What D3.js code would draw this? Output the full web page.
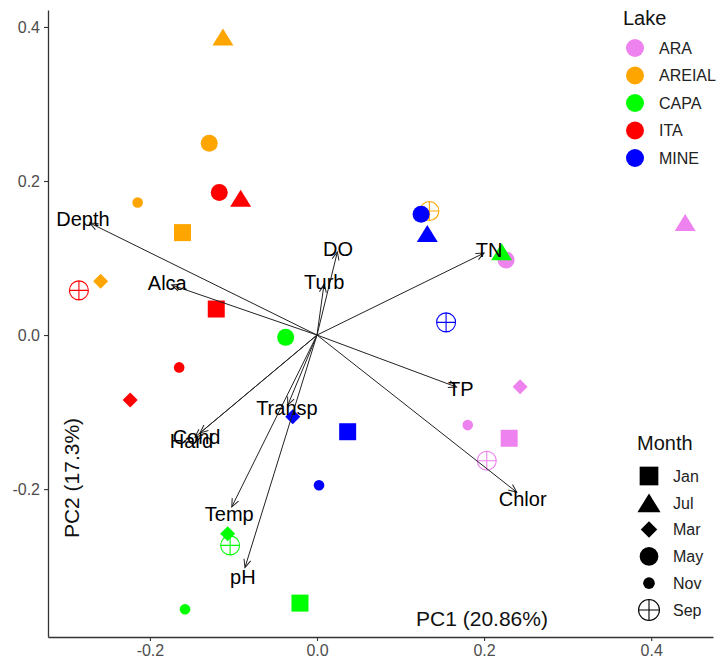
<!DOCTYPE html>
<html>
<head>
<meta charset="utf-8">
<title>PCA biplot</title>
<script src="https://cdn.jsdelivr.net/npm/d3@7"></script>
<style>
  body { margin: 0; background: #fff; }
  text { font-family: "Liberation Sans", Arial, sans-serif; }
</style>
</head>
<body>
<div id="chart"></div>
<script>
// lakes and their colours
var lakes = ["ARA", "AREIAL", "CAPA", "ITA", "MINE"];
var lakeColors = ["#EE82EE", "#FFA500", "#00FF00", "#FF0000", "#0000FF"];
var months = ["Jan", "Jul", "Mar", "May", "Nov", "Sep"];

// samples, lake x month
var sampleLake = [
  "ARA","ARA","ARA","ARA","ARA","ARA",
  "AREIAL","AREIAL","AREIAL","AREIAL","AREIAL","AREIAL",
  "CAPA","CAPA","CAPA","CAPA","CAPA","CAPA",
  "ITA","ITA","ITA","ITA","ITA","ITA",
  "MINE","MINE","MINE","MINE","MINE","MINE"];
var sampleMonth = [
  "Jan","Jul","Mar","May","Nov","Sep",
  "Jan","Jul","Mar","May","Nov","Sep",
  "Jan","Jul","Mar","May","Nov","Sep",
  "Jan","Jul","Mar","May","Nov","Sep",
  "Jan","Jul","Mar","May","Nov","Sep"];
var pc1 = [
  0.230, 0.4407, 0.2431, 0.2263, 0.1804, 0.2032,
  -0.161, -0.1126, -0.259, -0.129, -0.2147, 0.1345,
  -0.0204, 0.221, -0.107, -0.0375, -0.158, -0.104,
  -0.1206, -0.0914, -0.2236, -0.117, -0.165, -0.285,
  0.0367, 0.132, -0.029, 0.1246, 0.0024, 0.1545];
var pc2 = [
  -0.134, 0.146, -0.067, 0.0974, -0.1169, -0.1632,
  0.133, 0.387, 0.070, 0.249, 0.172, 0.161,
  -0.348, 0.108, -0.258, -0.003, -0.356, -0.273,
  0.0338, 0.1775, -0.0844, 0.185, -0.042, 0.058,
  -0.1255, 0.132, -0.106, 0.1567, -0.195, 0.0165];

// loadings (arrow tips)
var variables = ["Depth", "Alca", "DO", "Turb", "TN", "TP", "Chlor", "Transp", "Cond", "Hard", "Temp", "pH"];
var load1 = [-0.272, -0.174, 0.0244, 0.0084, 0.200, 0.167, 0.239, -0.035, -0.140, -0.146, -0.102, -0.0862];
var load2 = [0.1455, 0.065, 0.108, 0.066, 0.1065, -0.0675, -0.204, -0.091, -0.127, -0.1325, -0.223, -0.3017];

var xTicks = [-0.2, 0, 0.2, 0.4];
var yTicks = [-0.2, 0, 0.2, 0.4];

var width = 718, height = 669;
var margin = {top: 10, right: 5, bottom: 32, left: 48};

var svg = d3.select("#chart").append("svg")
    .attr("width", width)
    .attr("height", height);

var x = d3.scaleLinear().domain([-0.322, 0.474]).range([margin.left, width - margin.right]);
var y = d3.scaleLinear().domain([-0.392, 0.422]).range([height - margin.bottom, margin.top]);

var color = d3.scaleOrdinal().domain(lakes).range(lakeColors);

// shape paths centred on 0,0
function shapePath(m, k) {
  k = k || 1;
  if (m == "Jan") { var s = 8.5 * k; return "M" + -s + "," + -s + "H" + s + "V" + s + "H" + -s + "Z"; }
  if (m == "Jul") { var w = 10.5 * k, h = 8.5 * k; return "M0," + -h + "L" + w + "," + h + "L" + -w + "," + h + "Z"; }
  if (m == "Mar") { var d = 7.5 * k; return "M0," + -d + "L" + d + ",0L0," + d + "L" + -d + ",0Z"; }
  if (m == "May") { var r = 8.5 * k; return d3.path().arc ? circ(r) : ""; }
  if (m == "Nov") { return circ(5.3 * k); }
  var rr = 9.5 * k;
  return circ(rr) + "M" + -rr + ",0H" + rr + "M0," + -rr + "V" + rr;
}
function circ(r) {
  return "M" + r + ",0A" + r + "," + r + " 0 1,1 " + -r + ",0A" + r + "," + r + " 0 1,1 " + r + ",0Z";
}

// axes
var gx = svg.append("g")
    .attr("transform", "translate(0," + (height - margin.bottom) + ")")
    .call(d3.axisBottom(x).tickValues(xTicks).tickSize(4).tickSizeOuter(0).tickPadding(4)
      .tickFormat(function(d) { return d.toFixed(1); }));
var gy = svg.append("g")
    .attr("transform", "translate(" + margin.left + ",0)")
    .call(d3.axisLeft(y).tickValues(yTicks).tickSize(4).tickSizeOuter(0).tickPadding(4)
      .tickFormat(function(d) { return d.toFixed(1); }));
[gx, gy].forEach(function(g) {
  g.select(".domain").attr("stroke", "#333").attr("stroke-width", 1.3);
  g.selectAll(".tick line").attr("stroke", "#333").attr("stroke-width", 1.1);
  g.selectAll(".tick text").attr("fill", "#4D4D4D").style("font-size", "16px");
});

// points
var samples = pc1.map(function(v, i) {
  return {lake: sampleLake[i], month: sampleMonth[i], pc1: v, pc2: pc2[i]};
});
svg.append("g").selectAll("path")
  .data(samples)
  .enter().append("path")
    .attr("transform", function(d) { return "translate(" + x(d.pc1) + "," + y(d.pc2) + ")"; })
    .attr("d", function(d) { return shapePath(d.month); })
    .attr("fill", function(d) { return d.month == "Sep" ? "none" : color(d.lake); })
    .attr("stroke", function(d) { return d.month == "Sep" ? color(d.lake) : "none"; })
    .attr("stroke-width", 1.1);

// arrows
svg.append("defs").append("marker")
    .attr("id", "head")
    .attr("markerUnits", "userSpaceOnUse")
    .attr("markerWidth", 12).attr("markerHeight", 12)
    .attr("viewBox", "-10 -6 12 12")
    .attr("refX", 0).attr("refY", 0)
    .attr("orient", "auto")
  .append("path")
    .attr("d", "M-8,-3.5L0,0L-8,3.5")
    .attr("fill", "none")
    .attr("stroke", "#222")
    .attr("stroke-width", 1);

var loads = variables.map(function(v, i) { return {name: v, a: load1[i], b: load2[i]}; });
svg.append("g").selectAll("line")
  .data(loads)
  .enter().append("line")
    .attr("x1", x(0)).attr("y1", y(0))
    .attr("x2", function(d) { return x(d.a); })
    .attr("y2", function(d) { return y(d.b); })
    .attr("stroke", "#222")
    .attr("stroke-width", 1)
    .attr("marker-end", "url(#head)");

svg.append("g").selectAll("text")
  .data(loads)
  .enter().append("text")
    .attr("x", function(d) { return x(d.a * 1.03); })
    .attr("y", function(d) { return y(d.b * 1.04); })
    .attr("dy", "0.36em")
    .attr("text-anchor", "middle")
    .style("font-size", "20px")
    .attr("fill", "#000")
    .text(function(d) { return d.name; });

// axis titles inside the panel
svg.append("text")
    .attr("x", 482).attr("y", 626)
    .attr("text-anchor", "middle")
    .style("font-size", "21px")
    .attr("fill", "#111")
    .text("PC1 (20.86%)");
svg.append("text")
    .attr("transform", "translate(79,478) rotate(-90)")
    .attr("text-anchor", "middle")
    .style("font-size", "21px")
    .attr("fill", "#111")
    .text("PC2 (17.3%)");

// lake legend
var lg = svg.append("g").attr("transform", "translate(623,0)");
lg.append("text").attr("x", 0).attr("y", 25).style("font-size", "20px").attr("fill", "#111").text("Lake");
lakes.forEach(function(l, i) {
  var yy = 48 + i * 27.5;
  lg.append("circle").attr("cx", 12).attr("cy", yy).attr("r", 9).attr("fill", color(l));
  lg.append("text").attr("x", 36).attr("y", yy).attr("dy", "0.36em")
    .style("font-size", "16px").attr("fill", "#222").text(l);
});

// month legend
var mg = svg.append("g").attr("transform", "translate(637,0)");
mg.append("text").attr("x", 0).attr("y", 450).style("font-size", "20px").attr("fill", "#111").text("Month");
months.forEach(function(m, i) {
  var yy = 476 + i * 26.8;
  mg.append("path")
    .attr("transform", "translate(12," + yy + ")")
    .attr("d", shapePath(m, 1.1))
    .attr("fill", m == "Sep" ? "none" : "#000")
    .attr("stroke", m == "Sep" ? "#000" : "none")
    .attr("stroke-width", 1.1);
  mg.append("text").attr("x", 36).attr("y", yy).attr("dy", "0.36em")
    .style("font-size", "16px").attr("fill", "#222").text(m);
});
</script>
</body>
</html>
